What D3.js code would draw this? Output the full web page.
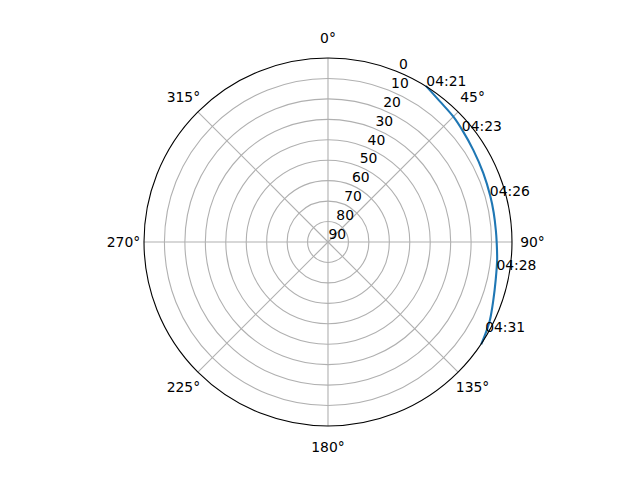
<!DOCTYPE html>
<html>
<head>
<meta charset="utf-8">
<script src="https://cdn.jsdelivr.net/npm/d3@7"></script>
<style>
  html, body { margin: 0; padding: 0; background: #fff; }
  svg { display: block; }
  text { font-family: "DejaVu Sans", sans-serif; font-size: 13.9px; fill: #000; }
</style>
</head>
<body>
<script>
// ---- data ----
// satellite track: azimuth (deg, clockwise from N) and elevation (deg)
const trackAz = [32.4, 38.5, 45, 50.2, 57.7, 66, 74.2, 80, 86, 90, 96.1, 102.8, 109.3, 115.7, 120.1, 123.4];
const trackEl = [0, 2.1, 3.3, 4.5, 5.9, 6.9, 7.5, 7.7, 7.7, 7.5, 6.8, 5.9, 4.3, 2.1, 0.9, 0];
// time annotations
const labelText = ["04:21", "04:23", "04:26", "04:28", "04:31"];
const labelAz = [32.3, 50.2, 74.1, 99.4, 119.7];
const labelEl = [0, 4.8, 7.7, 6.5, 1.5];
// axis ticks
const thetaTicks = [0, 45, 90, 135, 180, 225, 270, 315];
const thetaTickLabels = ["0°", "45°", "90°", "135°", "180°", "225°", "270°", "315°"];
const rTicks = [0, 10, 20, 30, 40, 50, 60, 70, 80, 90];
const rTickLabels = ["0", "10", "20", "30", "40", "50", "60", "70", "80", "90"];
const rLabelAngle = 22.5;

// ---- layout ----
const W = 640, H = 480;
const cx = 328, cy = 242, R = 184;

const svg = d3.select("body").append("svg").attr("width", W).attr("height", H);
const g = svg.append("g").attr("transform", `translate(${cx},${cy})`);

const rScale = d3.scaleLinear().domain([90, 0]).range([0, R]);
const aScale = d3.scaleLinear().domain([0, 360]).range([0, 2 * Math.PI]);

function pt(az, el) {
  const a = aScale(az), r = rScale(el);
  return [r * Math.sin(a), -r * Math.cos(a)];
}

// radial grid circles
g.append("g").selectAll("circle")
  .data(rTicks.filter(v => v > 0 && v < 90))
  .join("circle")
  .attr("r", d => rScale(d))
  .attr("fill", "none")
  .attr("stroke", "#b0b0b0")
  .attr("stroke-width", 1.1);

// angular grid lines
g.append("g").selectAll("line")
  .data(thetaTicks)
  .join("line")
  .attr("x1", 0).attr("y1", 0)
  .attr("x2", d => pt(d, 0)[0])
  .attr("y2", d => pt(d, 0)[1])
  .attr("stroke", "#b0b0b0")
  .attr("stroke-width", 1.1);

// track
const line = d3.lineRadial()
  .angle(d => aScale(d[0]))
  .radius(d => rScale(d[1]))
  .curve(d3.curveCatmullRom);
g.append("path")
  .datum(trackAz.map((a, i) => [a, trackEl[i]]))
  .attr("d", line)
  .attr("fill", "none")
  .attr("stroke", "#1f77b4")
  .attr("stroke-width", 2.1)
  .attr("stroke-linecap", "square");

// outer spine
g.append("circle")
  .attr("r", R)
  .attr("fill", "none")
  .attr("stroke", "#000")
  .attr("stroke-width", 1.1);

// theta tick labels
g.append("g").selectAll("text")
  .data(thetaTicks)
  .join("text")
  .attr("x", d => 204.5 * Math.sin(aScale(d)))
  .attr("y", d => -204.5 * Math.cos(aScale(d)) + 5)
  .attr("text-anchor", "middle")
  .text((d, i) => thetaTickLabels[i]);

// radial tick labels
g.append("g").selectAll("text")
  .data(rTicks)
  .join("text")
  .attr("x", d => pt(rLabelAngle, d)[0] + 0.5)
  .attr("y", d => pt(rLabelAngle, d)[1] - 3)
  .attr("text-anchor", "start")
  .text((d, i) => rTickLabels[i]);

// time annotations
g.append("g").selectAll("text")
  .data(labelText)
  .join("text")
  .attr("x", (d, i) => pt(labelAz[i], labelEl[i])[0])
  .attr("y", (d, i) => pt(labelAz[i], labelEl[i])[1])
  .attr("text-anchor", "start")
  .text(d => d);
</script>
</body>
</html>
